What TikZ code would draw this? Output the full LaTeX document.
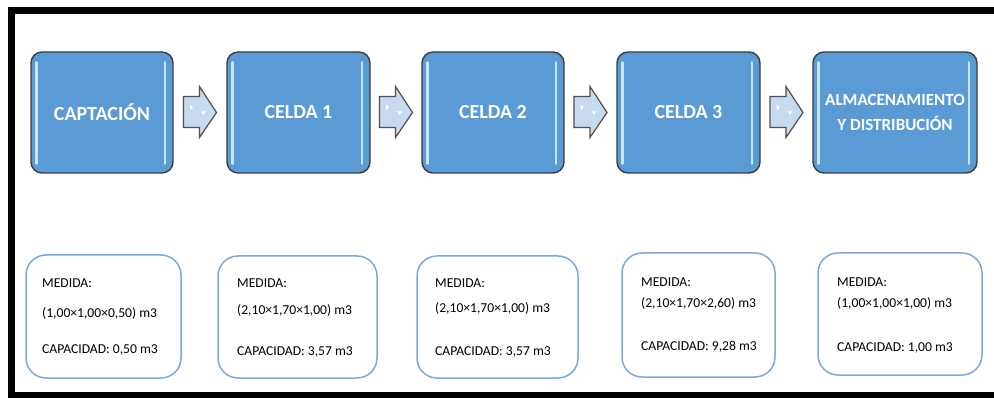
\documentclass[tikz,border=0pt]{standalone}
\usepackage{fontspec}
\setmainfont{Carlito}
\usetikzlibrary{calc}
\definecolor{azulcaja}{RGB}{91,155,213}
\definecolor{bordecaja}{RGB}{60,60,60}
\definecolor{brillo}{RGB}{195,232,255}
\definecolor{azulflecha}{RGB}{200,218,240}
\definecolor{bordemedida}{RGB}{120,170,222}
\tikzset{
  etapa/.style={draw=bordecaja, line width=1.4pt, fill=azulcaja, rounded corners=11pt,
    text=white, font=\fontsize{20}{25}\selectfont\bfseries, align=center},
  medida/.style={draw=bordemedida, line width=1.5pt, fill=white, rounded corners=20pt},
  dato/.style={anchor=west, inner sep=0pt, font=\fontsize{13.6}{15}\selectfont},
  flecha/.style={draw=bordecaja!90, line width=1.2pt, fill=azulflecha, line join=miter},
  marco/.style={line width=7pt, black}
}
\begin{document}
\begin{tikzpicture}[x=1pt, y=-1pt]
  \useasboundingbox (0,0) rectangle (994,398);

  % Marco exterior
  \draw [marco] (8,11) -- (994,11);
  \draw [marco] (11.5,11) -- (11.5,398);
  \draw [marco] (8,395.5) -- (994,395.5);

  % Etapas del proceso
  \node [etapa, minimum width=142, minimum height=121] (captacion) at (102,112.5) {CAPTACIÓN};
  \node [etapa, minimum width=143, minimum height=121] (celda1) at (298.5,112.5) {CELDA 1};
  \node [etapa, minimum width=142, minimum height=121] (celda2) at (493,112.5) {CELDA 2};
  \node [etapa, minimum width=143, minimum height=121] (celda3) at (688.5,112.5) {CELDA 3};
  \node [etapa, minimum width=164, minimum height=121, inner sep=0pt,
         font=\fontsize{17}{25}\selectfont\bfseries] (almacen) at (895,112.5) {ALMACENAMIENTO\\Y DISTRIBUCIÓN};

  % Brillos laterales
  \foreach \n in {captacion,celda1,celda2,celda3,almacen} {
    \draw [brillo, line width=2.4pt, line cap=round] ($(\n.north west)+(6,11)$) -- ($(\n.south west)+(6,-10)$);
    \draw [brillo, line width=2.4pt, line cap=round] ($(\n.north east)+(-9,11)$) -- ($(\n.south east)+(-9,-10)$);
  }

  % Flechas entre etapas
  \foreach \a/\b in {captacion/celda1,celda1/celda2,celda2/celda3,celda3/almacen} {
    \coordinate (m) at ($(\a.east)!0.5!(\b.west)$);
    \draw [flecha] (m) ++(-16.5,-16) -- ++(16,0) -- ++(0,-10) -- ++(17,26) -- ++(-17,25)
      -- ++(0,-10) -- ++(-16,0) -- cycle;
    \fill [white] (m) ++(-10,-8) -- ++(3,3) -- ++(-3,3) -- cycle;
    \fill [white] (m) ++(1,-1) -- ++(5,0) -- ++(-2.5,3.5) -- cycle;
  }

  % Cajas de medidas
  \node [medida, minimum width=155, minimum height=123] (med1) at (103.5,316.5) {};
  \node [medida, minimum width=159, minimum height=122] (med2) at (297.5,317) {};
  \node [medida, minimum width=161, minimum height=122] (med3) at (497.5,317) {};
  \node [medida, minimum width=153, minimum height=124] (med4) at (698.5,315) {};
  \node [medida, minimum width=164, minimum height=122] (med5) at (900,314) {};

  % Textos de captacion
  \node [dato] (med1a) at (42,283) {MEDIDA:};
  \node [dato] (med1b) at (42,313) {(1,00×1,00×0,50) m3};
  \node [dato] (med1c) at (42,350) {CAPACIDAD: 0,50 m3};

  % Textos de celda 1
  \node [dato] (med2a) at (237,283) {MEDIDA:};
  \node [dato] (med2b) at (237,310) {(2,10×1,70×1,00) m3};
  \node [dato] (med2c) at (237,352) {CAPACIDAD: 3,57 m3};

  % Textos de celda 2
  \node [dato] (med3a) at (435,283) {MEDIDA:};
  \node [dato] (med3b) at (435,308) {(2,10×1,70×1,00) m3};
  \node [dato] (med3c) at (435,352) {CAPACIDAD: 3,57 m3};

  % Textos de celda 3
  \node [dato] (med4a) at (641,282) {MEDIDA:};
  \node [dato] (med4b) at (641,303) {(2,10×1,70×2,60) m3};
  \node [dato] (med4c) at (641,347) {CAPACIDAD: 9,28 m3};

  % Textos de almacenamiento
  \node [dato] (med5a) at (837,282) {MEDIDA:};
  \node [dato] (med5b) at (837,303) {(1,00×1,00×1,00) m3};
  \node [dato] (med5c) at (837,348) {CAPACIDAD: 1,00 m3};
\end{tikzpicture}
\end{document}
